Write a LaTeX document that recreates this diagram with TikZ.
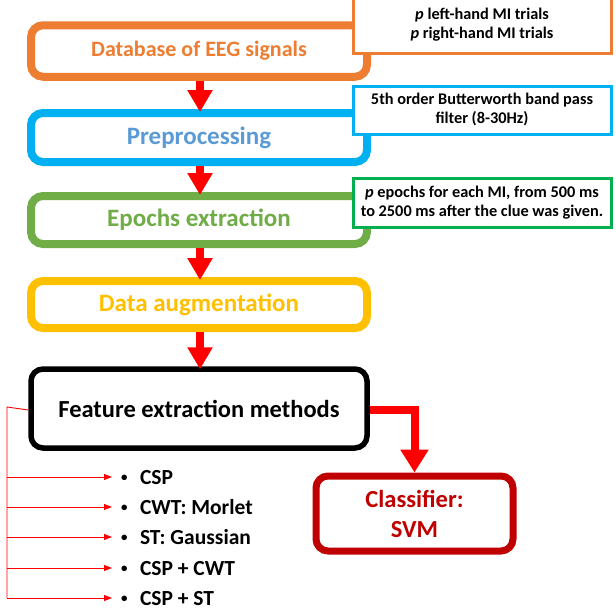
\documentclass[tikz,border=0pt]{standalone}
\usepackage{fontspec}
\setmainfont{Carlito}
\usetikzlibrary{arrows.meta}

\definecolor{cOrange}{RGB}{237,125,49}
\definecolor{cBlue}{RGB}{0,176,240}
\definecolor{cBlueText}{RGB}{91,155,213}
\definecolor{cGreen}{RGB}{112,173,71}
\definecolor{cNoteGreen}{RGB}{0,176,80}
\definecolor{cYellow}{RGB}{255,192,0}
\definecolor{cDarkRed}{RGB}{192,0,0}

\newcommand{\listdot}{\hspace*{9pt}\makebox[19pt][l]{\fontsize{13}{13}\selectfont\raisebox{2.5pt}{•}}}

\tikzset{
  stage/.style={draw, fill=white, rounded corners=12pt, line width=8pt,
    minimum width=336pt, inner sep=0pt,
    font=\bfseries\fontsize{25}{28}\selectfont},
  note/.style={draw, fill=white, line width=3pt, minimum width=258pt,
    inner sep=0pt, align=center,
    font=\bfseries\fontsize{16.3}{19}\selectfont},
  flow/.style={red, line width=8pt, shorten >=-3pt,
    -{Triangle[width=24pt,length=22pt]}},
  bigflow/.style={red, line width=8pt,
    -{Triangle[width=27pt,length=23pt]}},
  rail/.style={red, line width=0.9pt},
  branch/.style={red, line width=0.9pt, -{Triangle[width=6pt,length=8pt]}},
  item/.style={anchor=west, inner sep=0pt, outer sep=0pt,
    text height=14pt, text depth=0pt,
    font=\bfseries\fontsize{21.5}{24}\selectfont},
}

\begin{document}
\begin{tikzpicture}[x=1pt, y=-1pt]
\useasboundingbox (0,0) rectangle (616,613);
\clip (0,0) rectangle (616,613);

% processing stages
\node[stage, draw=cOrange, text=cOrange, minimum height=51.5pt,
  font=\bfseries\fontsize{22}{26}\selectfont]
  (db) at (199,51) {Database of EEG signals};
\node[stage, draw=cBlue, text=cBlueText, minimum height=49pt]
  (pre) at (199,137.5) {Preprocessing};
\node[stage, draw=cGreen, text=cGreen, minimum height=48pt]
  (ep) at (199,220) {Epochs extraction};
\node[stage, draw=cYellow, text=cYellow, minimum height=47pt]
  (aug) at (199,304.5) {Data augmentation};
\node[stage, draw=black, text=black, line width=5.5pt, minimum height=79pt,
  font=\bfseries\fontsize{24.5}{28}\selectfont]
  (feat) at (199,408.5) {Feature extraction methods};
\node[stage, draw=cDarkRed, text=cDarkRed, line width=7pt,
  minimum width=197pt, minimum height=75pt, align=center,
  font=\bfseries\fontsize{24.5}{30}\selectfont]
  (clf) at (414.5,513.5) {Classifier:\\SVM};

% side notes
\node[note, draw=cOrange, minimum height=56pt] (n1) at (482,25)
  {\textit{p} left-hand MI trials\\\textit{p} right-hand MI trials};
\node[note, draw=cBlue, minimum height=48pt] (n2) at (482,110)
  {5th order Butterworth band pass\\filter (8-30Hz)};
\node[note, draw=cNoteGreen, minimum height=49pt] (n3) at (482,202.5)
  {\textit{p} epochs for each MI, from 500 ms\\to 2500 ms after the clue was given.};

% flow arrows
\draw[flow] ([xshift=1pt]db.south) -- ([xshift=1pt]pre.north);
\draw[flow] ([xshift=1pt]pre.south) -- ([xshift=1pt]ep.north);
\draw[flow] ([xshift=1pt]ep.south) -- ([xshift=1pt]aug.north);
\draw[flow] ([xshift=1pt]aug.south) -- ([xshift=1pt]feat.north);
\draw[bigflow] ([yshift=-1.5pt]feat.east) -| (clf.north);

% feature extraction methods
\node[item] (m1) at (112,477) {\listdot CSP};
\node[item] (m2) at (112,507) {\listdot CWT: Morlet};
\node[item] (m3) at (112,537) {\listdot ST: Gaussian};
\node[item] (m4) at (112,568) {\listdot CSP + CWT};
\node[item] (m5) at (112,598) {\listdot CSP + ST};

\coordinate (railtop) at (7,407);
\coordinate (railbot) at (7,598);
\draw[rail] ([yshift=-1.5pt]feat.west) -- (railtop) -- (railbot);
\foreach \m in {m1,m2,m3,m4,m5}
  \draw[branch] (railtop |- \m.west) -- (\m.west);
\end{tikzpicture}
\end{document}
